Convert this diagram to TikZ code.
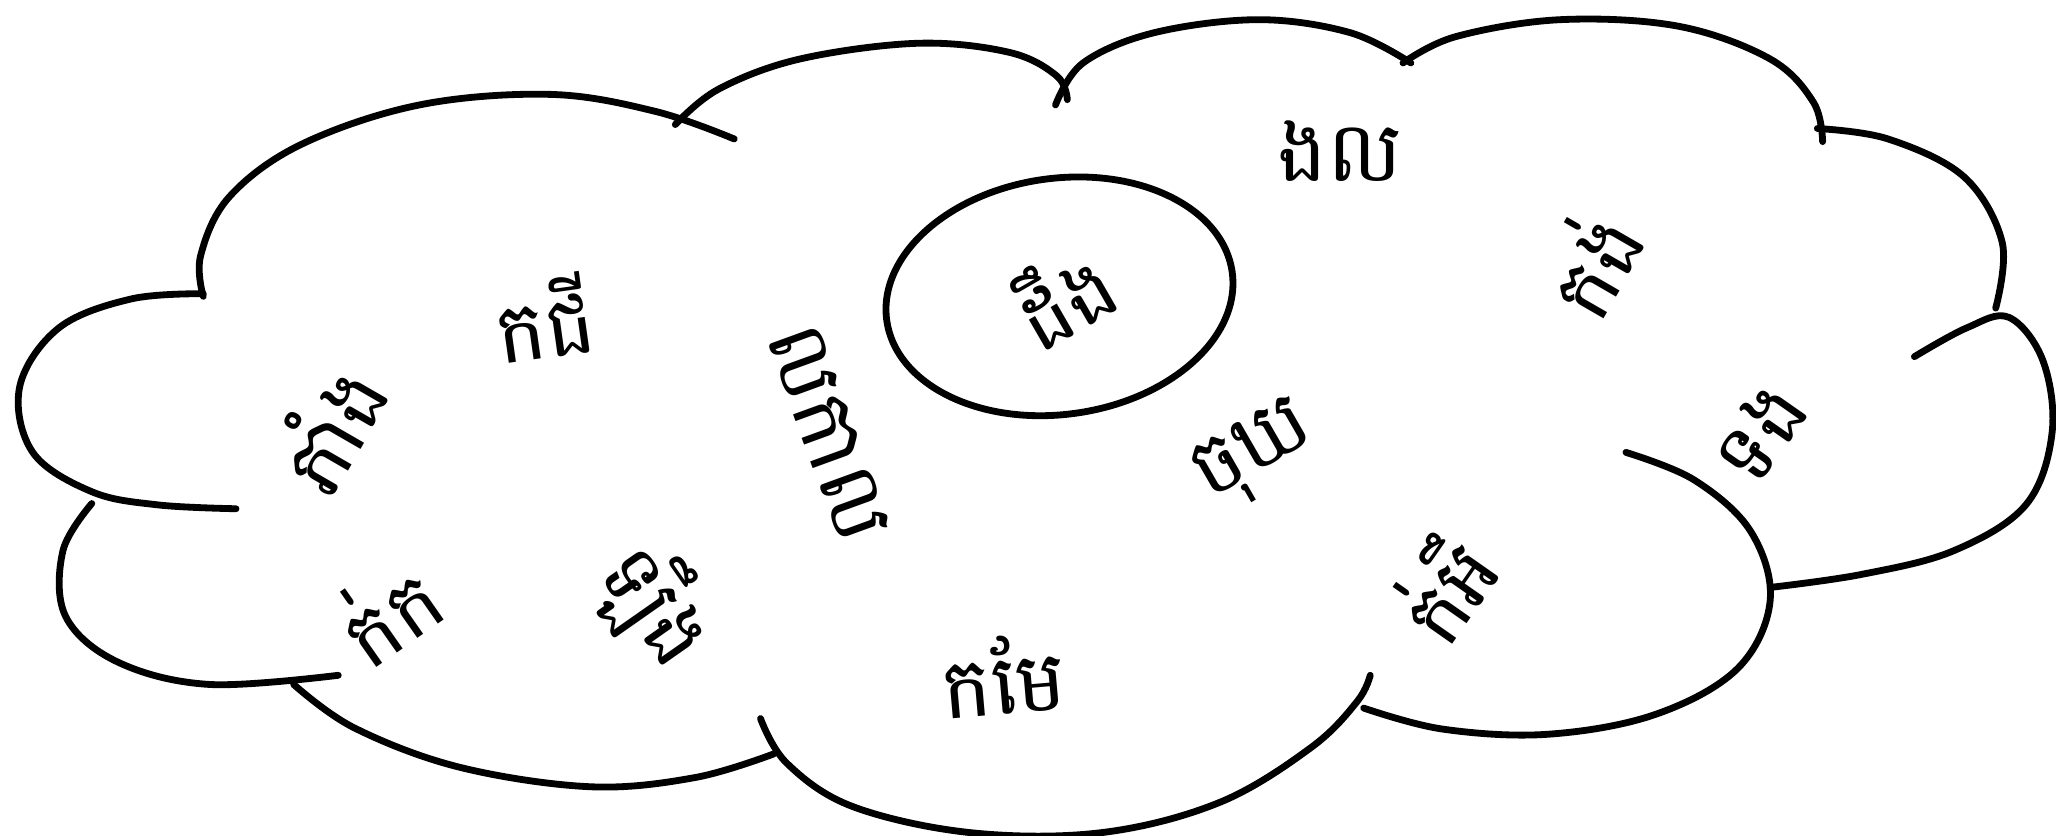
\documentclass[tikz,border=0pt]{standalone}
\usepackage{fontspec}
\newfontfamily\km[Script=Khmer]{Battambang}
\usetikzlibrary{shapes.geometric}
\begin{document}
\begin{tikzpicture}[x=0.5pt,y=-0.5pt,
  cl/.style={line width=2.6pt, line cap=round, line join=round},
  lbl/.style={font=\km\fontsize{32}{38}\selectfont, inner sep=0pt}]
\useasboundingbox (0,0) rectangle (1568,637);
% upper-left lobe
\draw[cl] plot[smooth, tension=0.6] coordinates {(155,226) (153,195) (175,150) (230,110) (320,80) (420,72) (500,85) (560,106)};
% top left-centre lobe
\draw[cl] plot[smooth, tension=0.6] coordinates {(515,95) (548,68) (610,45) (700,33) (770,40) (806,58) (814,76)};
% top centre lobe
\draw[cl] plot[smooth, tension=0.6] coordinates {(805,80) (826,48) (880,25) (960,15) (1030,25) (1076,48)};
% top right lobe
\draw[cl] plot[smooth, tension=0.6] coordinates {(1070,48) (1110,28) (1190,15) (1280,20) (1350,45) (1383,78) (1390,108)};
% right upper lobe
\draw[cl] plot[smooth, tension=0.6] coordinates {(1386,98) (1440,106) (1498,135) (1527,185) (1522,235)};
% right lower lobe
\draw[cl] plot[smooth, tension=0.6] coordinates {(1460,272) (1500,250) (1532,242) (1558,275) (1565,330) (1545,385) (1490,420) (1420,438) (1350,448)};
% bottom right lobe
\draw[cl] plot[smooth, tension=0.6] coordinates {(1240,345) (1292,366) (1335,405) (1350,458) (1325,510) (1262,545) (1180,560) (1100,556) (1040,540)};
% bottom centre lobe
\draw[cl] plot[smooth, tension=0.6] coordinates {(580,548) (600,582) (650,615) (740,635) (840,635) (930,612) (1000,570) (1035,535) (1045,515)};
% bottom left lobe
\draw[cl] plot[smooth, tension=0.6] coordinates {(224,522) (270,555) (350,585) (450,600) (530,593) (590,575)};
% lower left lobe
\draw[cl] plot[smooth, tension=0.6] coordinates {(70,384) (48,420) (50,470) (90,505) (160,522) (258,515)};
% left lobe
\draw[cl] plot[smooth, tension=0.6] coordinates {(155,224) (100,228) (45,250) (15,295) (25,345) (70,375) (120,385) (180,388)};
% inner ellipse
\node[cl, draw, ellipse, minimum width=133pt, minimum height=90pt, rotate=8] (e) at (808,226) {};
% labels
\node[lbl] (t1) at (1022,115) {ងល};
\node[lbl, rotate=60] (t2) at (1212,200) {កង់};
\node[lbl, rotate=30] (t3) at (810,225) {ដឹង};
\node[lbl, rotate=8] (t4) at (415,242) {កជី};
\node[lbl, rotate=60] (t5) at (250,325) {ភាំង};
\node[lbl, rotate=-70] (t6) at (632,330) {លកាល};
\node[lbl, rotate=30] (t7) at (958,348) {ចុឃ};
\node[lbl, rotate=55] (t8) at (1342,330) {ទង};
\node[lbl, rotate=35] (t9) at (295,465) {ក់ក};
\node[lbl, rotate=-55] (t10) at (500,462) {ឡឹង};
\node[lbl, rotate=5] (t11) at (765,515) {កមែ};
\node[lbl, rotate=55] (t12) at (1100,448) {ក់អឹ};
\end{tikzpicture}
\end{document}
